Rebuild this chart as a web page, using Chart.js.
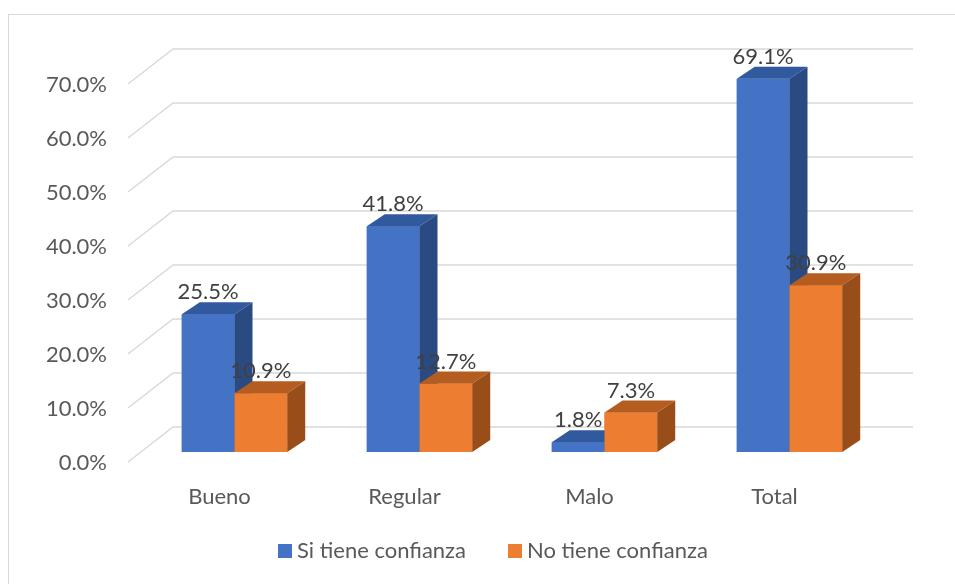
<!DOCTYPE html>
<html>
<head>
<meta charset="utf-8">
<script src="https://cdn.jsdelivr.net/npm/chart.js@4"></script>
<style>
  body { margin: 0; background: #fff; }
  #frame { position: absolute; left: 8px; top: 14px; width: 960px; height: 600px;
           border-left: 1.5px solid #d9d9d9; border-top: 1.5px solid #d9d9d9; }
  #wrap { position: absolute; left: 0; top: 0; width: 955px; height: 584px; }
</style>
</head>
<body>
<div id="frame"></div>
<div id="wrap"><canvas id="chart"></canvas></div>
<script>
const categories = ["Bueno", "Regular", "Malo", "Total"];
const siTiene = [25.5, 41.8, 1.8, 69.1];
const noTiene = [10.9, 12.7, 7.3, 30.9];
const yTicks = [0, 10, 20, 30, 40, 50, 60, 70];

const FONT = "Lato";
const TXT = "#595959";

// depth offsets, px: bar depth, front wall and back wall relative to bar plane
const BAR_D = { x: 18, y: -12 };
const FRONT = { x: -14, y: 10 };
const BACK = { x: 31, y: -25 };

const faces = [
  { front: "#4472C4", top: "#30599E", side: "#2A4A82" },
  { front: "#ED7D31", top: "#B55D20", side: "#994E1A" }
];

// gridlines drawn as a 3D wall
const wallPlugin = {
  id: "wall",
  beforeDatasetsDraw(chart) {
    const { ctx, chartArea, scales } = chart;
    ctx.save();
    ctx.strokeStyle = "#d9d9d9";
    ctx.lineWidth = 1.5;
    yTicks.forEach(v => {
      const y = scales.y.getPixelForValue(v);
      ctx.beginPath();
      ctx.moveTo(chartArea.left + FRONT.x, y + FRONT.y);
      ctx.lineTo(chartArea.left + BACK.x, y + BACK.y);
      ctx.lineTo(chartArea.right + BACK.x, y + BACK.y);
      ctx.stroke();
    });
    ctx.restore();
  }
};

// top and side faces for each bar, then value labels
const boxPlugin = {
  id: "box",
  afterDatasetsDraw(chart) {
    const { ctx } = chart;
    ctx.save();
    chart.data.datasets.forEach((ds, di) => {
      const meta = chart.getDatasetMeta(di);
      meta.data.forEach(bar => {
        const l = bar.x - bar.width / 2, r = bar.x + bar.width / 2;
        const t = bar.y, b = bar.base;
        ctx.fillStyle = faces[di].front;
        ctx.fillRect(l, t, r - l, b - t);
        ctx.fillStyle = faces[di].top;
        ctx.beginPath();
        ctx.moveTo(l, t); ctx.lineTo(l + BAR_D.x, t + BAR_D.y);
        ctx.lineTo(r + BAR_D.x, t + BAR_D.y); ctx.lineTo(r, t);
        ctx.closePath(); ctx.fill();
        ctx.fillStyle = faces[di].side;
        ctx.beginPath();
        ctx.moveTo(r, t); ctx.lineTo(r + BAR_D.x, t + BAR_D.y);
        ctx.lineTo(r + BAR_D.x, b + BAR_D.y); ctx.lineTo(r, b);
        ctx.closePath(); ctx.fill();
      });
    });
    ctx.fillStyle = "#404040";
    ctx.font = "22px " + FONT;
    ctx.textAlign = "center";
    ctx.textBaseline = "bottom";
    chart.data.datasets.forEach((ds, di) => {
      chart.getDatasetMeta(di).data.forEach((bar, i) => {
        ctx.fillText(ds.data[i].toFixed(1) + "%", bar.x, bar.y - 11);
      });
    });
    ctx.restore();
  }
};

const legendPlugin = {
  id: "legend3d",
  afterDraw(chart) {
    const { ctx } = chart;
    ctx.save();
    ctx.font = "22px " + FONT;
    ctx.textBaseline = "middle";
    const y = 551;
    let x = 278;
    chart.data.datasets.forEach((ds, di) => {
      ctx.fillStyle = ds.backgroundColor;
      ctx.fillRect(x, y - 7, 14, 14);
      ctx.fillStyle = TXT;
      ctx.fillText(ds.label, x + 19, y);
      x += 230;
    });
    ctx.restore();
  }
};

new Chart(document.getElementById("chart"), {
  type: "bar",
  data: {
    labels: categories,
    datasets: [
      { label: "Si tiene confianza", data: siTiene, backgroundColor: faces[0].front },
      { label: "No tiene confianza", data: noTiene, backgroundColor: faces[1].front }
    ]
  },
  options: {
    responsive: true,
    maintainAspectRatio: false,
    animation: false,
    events: [],
    categoryPercentage: 0.57,
    barPercentage: 1.0,
    layout: { padding: { top: 74, right: 73, bottom: 0, left: 0 } },
    plugins: { legend: { display: false }, tooltip: { enabled: false } },
    datasets: { bar: { borderWidth: 0 } },
    scales: {
      x: {
        grid: { display: false, drawTicks: false },
        border: { display: false },
        ticks: { color: TXT, font: { family: FONT, size: 22 }, padding: 32, labelOffset: -15 },
        afterFit(s) { s.height = 584 - 452; }
      },
      y: {
        min: 0, max: 70,
        grid: { display: false, drawTicks: false },
        border: { display: false },
        ticks: {
          stepSize: 10, color: TXT, font: { family: FONT, size: 22 }, padding: 35,
          labelOffset: 11,
          callback: v => v.toFixed(1) + "%"
        },
        afterFit(s) { s.width = 142; }
      }
    }
  },
  plugins: [wallPlugin, boxPlugin, legendPlugin]
});
</script>
</body>
</html>
